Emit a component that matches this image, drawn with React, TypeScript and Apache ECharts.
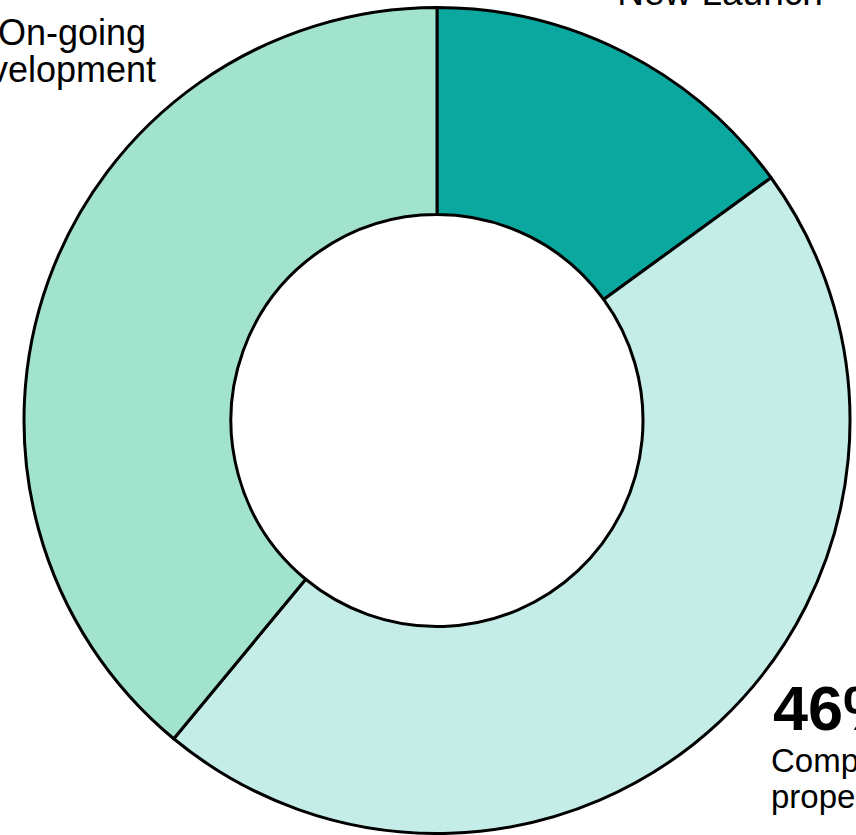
import React, { useEffect, useRef } from "react";
import * as echarts from "echarts";

const categories = ["New Launch", "Completed properties", "On-going development"];
const values = [15, 46, 39];
const colors = ["#0BA8A0", "#C4EDE8", "#A2E3CE"];
const percentLabels = ["", "46%", ""];

const FONT = "'Liberation Sans', Arial, Helvetica, sans-serif";

export default function App() {
  const ref = useRef<HTMLDivElement>(null);
  useEffect(() => {
    if (!ref.current) return;
    const chart = echarts.init(ref.current, undefined, { renderer: "svg" });
    const t = (text: string, x: number, y: number, size: number, align: string, bold = false) => ({
      type: "text",
      x,
      y,
      silent: true,
      style: {
        text,
        fontFamily: FONT,
        fontSize: size,
        fontWeight: bold ? "bold" : "normal",
        fill: "#000",
        align,
        verticalAlign: "middle",
      },
    });
    const nl = categories[0];
    const [comp1, comp2] = categories[1].split(" ");
    const [on1, on2] = categories[2].split(" ");
    chart.setOption({
      animation: false,
      backgroundColor: "#fff",
      series: [
        {
          type: "pie",
          center: [437, 420.5],
          radius: [206, 413],
          startAngle: 90,
          clockwise: true,
          silent: true,
          label: { show: false },
          labelLine: { show: false },
          emphasis: { disabled: true },
          itemStyle: { borderColor: "#000", borderWidth: 3 },
          data: categories.map((c, i) => ({
            name: c,
            value: values[i],
            itemStyle: { color: colors[i] },
          })),
        },
      ],
      graphic: [
        t(nl, 720, -8, 37, "center"),
        t(on1, 146, 32.5, 36, "right"),
        t(on2, 156, 69.5, 36, "right"),
        t(percentLabels[1], 773, 707.7, 63, "left", true),
        t(comp1, 771, 760, 33, "left"),
        t(comp2, 771, 796.6, 33, "left"),
      ],
    });
    return () => chart.dispose();
  }, []);
  return (
    <div
      ref={ref}
      style={{ position: "absolute", left: 0, top: 0, width: 856, height: 835 }}
    />
  );
}
